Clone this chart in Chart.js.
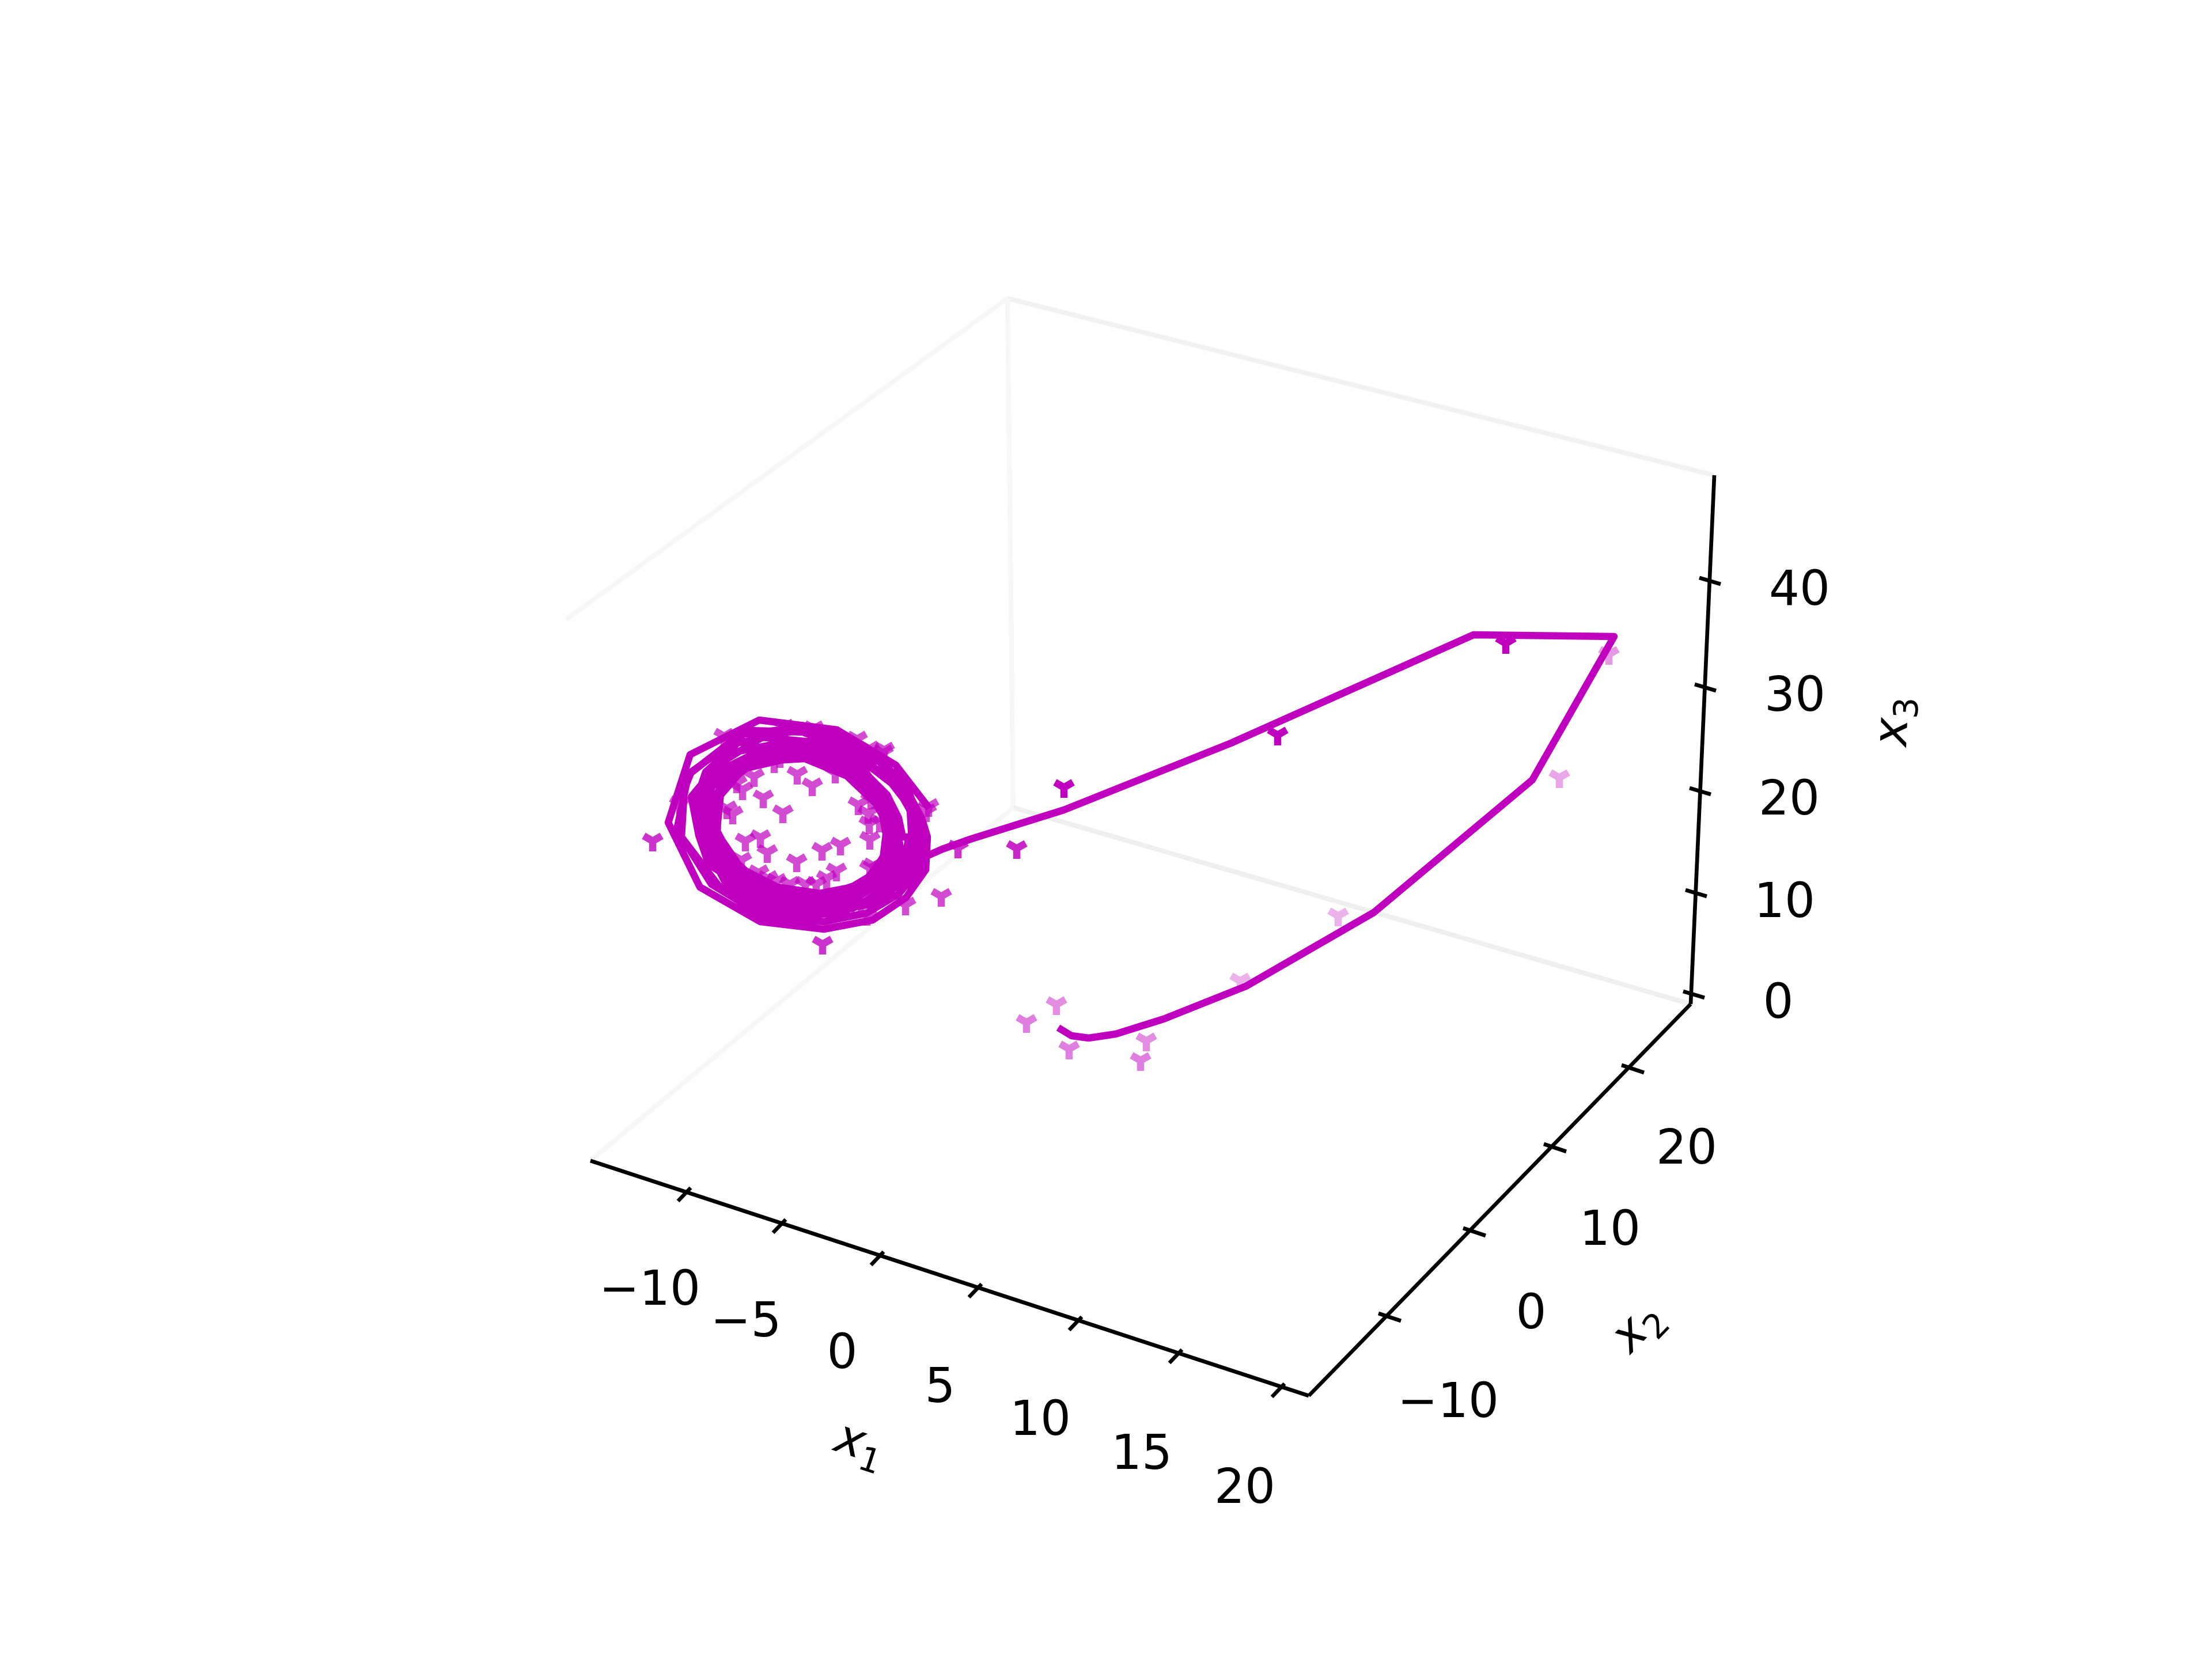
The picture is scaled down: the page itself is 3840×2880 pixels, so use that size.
<!DOCTYPE html>
<html>
<head>
<meta charset="utf-8">
<style>
  html, body { margin: 0; padding: 0; background: #fff; }
  canvas { display: block; }
</style>
<script src="https://cdn.jsdelivr.net/npm/chart.js@4"></script>
</head>
<body>
<canvas id="lorenzChart" width="3840" height="2880"></canvas>
<script>
const lineX = [1837, 1860, 1890, 1937, 2020, 2163, 2385, 2660, 2802, 2558, 2137, 1847, 1687, 1636,
  1600, 1570, 1510, 1425, 1330, 1265, 1232, 1235, 1260, 1330, 1420, 1500, 1548, 1550, 1520, 1465, 1395, 1330, 1275, 1245, 1247, 1290, 1397, 1470, 1530,
  1538, 1533, 1500, 1470, 1423, 1350, 1287, 1244, 1251, 1279, 1310, 1397, 1470, 1529,
  1543, 1515, 1465, 1395, 1320, 1270, 1238, 1238, 1270, 1325, 1385, 1450, 1510, 1537,
  1555, 1525, 1470, 1400, 1310, 1255, 1227, 1230, 1240, 1283, 1350, 1430, 1480, 1530, 1550,
  1558, 1530, 1475, 1405, 1305, 1250, 1232, 1225, 1255, 1330, 1430, 1485, 1535, 1555,
  1565, 1533, 1480, 1413, 1300, 1243, 1225, 1217, 1217, 1267, 1340, 1430, 1490, 1540, 1560, 1567,
  1577, 1572, 1540, 1493, 1440, 1340, 1260, 1230, 1213, 1200, 1247, 1323, 1430, 1500, 1557, 1580,
  1583, 1583, 1545, 1480, 1410, 1330, 1258, 1225, 1205, 1225, 1280, 1385, 1480, 1540, 1575,
  1588, 1593, 1547, 1463, 1400, 1317, 1247, 1183, 1188, 1200, 1300, 1427, 1527, 1580,
  1600, 1600, 1560, 1505, 1430, 1325, 1235, 1175, 1195, 1285, 1400, 1500, 1565, 1600,
  1610, 1607, 1573, 1515, 1430, 1320, 1215, 1160, 1198, 1318, 1453, 1555, 1613];
const lineY = [1784, 1798, 1802, 1795, 1769, 1712, 1584, 1354, 1105, 1102, 1290, 1406, 1456, 1474,
  1490, 1530, 1570, 1585, 1570, 1525, 1470, 1400, 1345, 1300, 1295, 1335, 1410, 1470, 1525, 1552, 1562, 1545, 1510, 1450, 1385, 1335, 1310, 1340, 1400,
  1448, 1490, 1532, 1542, 1551, 1540, 1508, 1445, 1378, 1347, 1322, 1317, 1347, 1403,
  1470, 1518, 1548, 1558, 1535, 1490, 1430, 1385, 1345, 1315, 1308, 1325, 1375, 1425,
  1470, 1525, 1555, 1568, 1545, 1490, 1410, 1383, 1353, 1323, 1303, 1310, 1335, 1385, 1430,
  1470, 1525, 1560, 1572, 1552, 1495, 1430, 1385, 1335, 1298, 1305, 1333, 1382, 1425,
  1483, 1530, 1563, 1577, 1557, 1500, 1450, 1413, 1380, 1307, 1293, 1300, 1330, 1380, 1420, 1453,
  1453, 1493, 1540, 1570, 1583, 1572, 1520, 1500, 1450, 1383, 1327, 1280, 1290, 1323, 1367, 1407,
  1460, 1497, 1540, 1577, 1586, 1578, 1530, 1465, 1400, 1340, 1290, 1268, 1303, 1350, 1395,
  1430, 1500, 1543, 1583, 1590, 1583, 1537, 1453, 1370, 1340, 1268, 1272, 1323, 1380,
  1445, 1505, 1552, 1585, 1600, 1590, 1535, 1440, 1345, 1275, 1262, 1295, 1355, 1420,
  1453, 1510, 1558, 1597, 1613, 1600, 1540, 1428, 1310, 1250, 1267, 1328, 1403];

const markerX = [2614, 2793, 2218, 1847, 2707, 1765, 1663, 2323, 2153, 1834, 1782, 1856, 1990, 1980,
  1133, 1428, 1634, 1572, 1505, 1383, 1427, 1459, 1332, 1320, 1294, 1452, 1435, 1510, 1509, 1527, 1507, 1490, 1512,
  1359, 1325, 1272, 1262, 1289, 1279, 1309, 1384, 1410, 1450, 1344, 1354, 1180,
  1257, 1361, 1413, 1488, 1509, 1535, 1533, 1608, 1612,
  1287, 1317, 1333, 1348, 1371, 1398, 1417, 1510, 1516];
const markerY = [1117, 1136, 1276, 1367, 1350, 1473, 1472, 1590, 1703, 1744, 1775, 1821, 1807, 1841,
  1460, 1639, 1556, 1571, 1589, 1496, 1476, 1467, 1480, 1454, 1460, 1512, 1525, 1457, 1430, 1427, 1412, 1397, 1387,
  1411, 1385, 1413, 1404, 1371, 1359, 1348, 1344, 1364, 1342, 1324, 1315, 1395,
  1278, 1262, 1265, 1283, 1300, 1302, 1307, 1409, 1400,
  1493, 1515, 1525, 1530, 1535, 1535, 1535, 1507, 1503];
// how strongly each marker is shaded by depth
const markerShade = [1, 0.4, 1, 1, 0.35, 0.85, 0.8, 0.3, 0.3, 0.45, 0.5, 0.5, 0.45, 0.5,
  0.8, 0.8, 0.7, 0.7, 0.7, 0.7, 0.7, 0.7, 0.7, 0.7, 0.7, 0.7, 0.7, 0.7, 0.7, 0.7, 0.7, 0.7, 0.7,
  0.7, 0.7, 0.7, 0.7, 0.7, 0.7, 0.7, 0.7, 0.7, 0.7, 0.7, 0.7, 0.7,
  0.7, 0.7, 0.7, 0.7, 0.7, 0.7, 0.7, 0.7, 0.7,
  0.7, 0.7, 0.7, 0.7, 0.7, 0.7, 0.7, 0.7, 0.7];

const x1TickLabels = ["\u221210", "\u22125", "0", "5", "10", "15", "20"];
const x1TickX = [1190, 1355, 1525, 1695, 1869, 2043, 2221];
const x1TickY = [2068, 2123, 2179, 2235, 2292, 2349, 2408];
const x1LabelX = [1128, 1295, 1462, 1632, 1806, 1982, 2161];
const x1LabelY = [2235, 2290, 2345, 2404, 2461, 2520, 2579];

const x2TickLabels = ["\u221210", "0", "10", "20"];
const x2TickX = [2409, 2556, 2696, 2831];
const x2TickY = [2285, 2137, 1991, 1854];
const x2LabelX = [2514, 2658, 2795, 2928];
const x2LabelY = [2430, 2276, 2131, 1990];

const x3TickLabels = ["0", "10", "20", "30", "40"];
const x3TickX = [2940, 2944, 2951, 2960, 2968];
const x3TickY = [1726, 1550, 1373, 1193, 1008];
const x3LabelX = [3087, 3098, 3106, 3116, 3124];
const x3LabelY = [1737, 1562, 1384, 1204, 1020];

// box corners of the 3d view
const floorFront = { x: 2272, y: 2423 };
const floorLeft = { x: 1025, y: 2015 };
const floorRight = { x: 2935, y: 1743 };
const floorBack = { x: 1759, y: 1402 };
const topBack = { x: 1749, y: 518 };
const topLeft = { x: 982, y: 1076 };
const topRight = { x: 2976, y: 825 };

const MAGENTA = "#bf00bf";

function zip(xs, ys) {
  return xs.map(function (x, i) { return { x: x, y: ys[i] }; });
}

function edge(points, color, width) {
  return {
    data: points,
    showLine: true,
    borderColor: color,
    borderWidth: width,
    pointRadius: 0,
    order: 3
  };
}

function tickMarks(xs, ys, dx1, dy1, dx2, dy2) {
  return xs.map(function (x, i) {
    return edge([{ x: x + dx1, y: ys[i] + dy1 }, { x: x + dx2, y: ys[i] + dy2 }], "#000", 6.67);
  });
}

// tri_down marker, one small canvas per point because alpha follows depth
function triDown(alpha) {
  const c = document.createElement("canvas");
  c.width = 60;
  c.height = 60;
  const g = c.getContext("2d");
  const r = 18;
  g.globalAlpha = alpha;
  g.strokeStyle = MAGENTA;
  g.lineWidth = 12.5;
  g.beginPath();
  g.moveTo(30, 30);
  g.lineTo(30, 30 + r);
  g.moveTo(30, 30);
  g.lineTo(30 - 0.866 * r, 30 - 0.5 * r);
  g.moveTo(30, 30);
  g.lineTo(30 + 0.866 * r, 30 - 0.5 * r);
  g.stroke();
  return c;
}

const markerImages = markerShade.map(triDown);

const datasets = [
  {
    data: zip(lineX, lineY),
    showLine: true,
    borderColor: MAGENTA,
    borderWidth: 12.5,
    borderJoinStyle: "round",
    pointRadius: 0,
    order: 1
  },
  {
    data: zip(markerX, markerY),
    showLine: false,
    pointStyle: markerImages,
    pointRadius: 20,
    order: 2
  },
  edge([floorLeft, floorFront], "#000", 6.67),
  edge([floorFront, floorRight], "#000", 6.67),
  edge([floorRight, topRight], "#000", 6.67),
  edge([floorLeft, floorBack], "#f7f7f7", 8.3),
  edge([floorBack, floorRight], "#efefef", 8.3),
  edge([floorBack, topBack], "#f7f7f7", 8.3),
  edge([topBack, topLeft], "#f7f7f7", 8.3),
  edge([topBack, topRight], "#f2f2f2", 8.3)
].concat(
  tickMarks(x1TickX, x1TickY, -13, 17, 9, -6),
  tickMarks(x2TickX, x2TickY, -16, -5, 23, 8),
  tickMarks(x3TickX, x3TickY, -18, -5, 19, 6)
);

// axis text goes through the same scales as the marks
const axisText = {
  id: "axisText",
  afterDraw: function (chart) {
    const ctx = chart.ctx;
    const sx = chart.scales.x;
    const sy = chart.scales.y;

    function tickText(labels, xs, ys) {
      ctx.font = "83.3px 'DejaVu Sans'";
      ctx.textAlign = "center";
      ctx.textBaseline = "alphabetic";
      ctx.fillStyle = "#000";
      labels.forEach(function (label, i) {
        ctx.fillText(label, sx.getPixelForValue(xs[i]), sy.getPixelForValue(ys[i]) + 30);
      });
    }

    function axisName(sub, x, y, degrees) {
      ctx.save();
      ctx.translate(sx.getPixelForValue(x), sy.getPixelForValue(y));
      ctx.rotate(degrees * Math.PI / 180);
      ctx.textAlign = "left";
      ctx.textBaseline = "alphabetic";
      ctx.fillStyle = "#000";
      ctx.font = "italic 83.3px 'DejaVu Sans'";
      ctx.fillText("x", -43, 14);
      ctx.font = "58.3px 'DejaVu Sans'";
      ctx.fillText(sub, 6, 31);
      ctx.restore();
    }

    tickText(x1TickLabels, x1LabelX, x1LabelY);
    tickText(x2TickLabels, x2LabelX, x2LabelY);
    tickText(x3TickLabels, x3LabelX, x3LabelY);
    axisName("1", 1490, 2517, 18);
    axisName("2", 2850, 2311, -46);
    axisName("3", 3297, 1253, -87.4);
  }
};

new Chart(document.getElementById("lorenzChart").getContext("2d"), {
  type: "scatter",
  data: { datasets: datasets },
  plugins: [axisText],
  options: {
    responsive: false,
    animation: false,
    devicePixelRatio: 1,
    // no extra room around the points, the scales must fill the whole canvas
    layout: { padding: 0, autoPadding: false },
    plugins: {
      legend: { display: false },
      tooltip: { enabled: false }
    },
    scales: {
      x: { type: "linear", min: 0, max: 3840, display: false },
      y: { type: "linear", min: 0, max: 2880, reverse: true, display: false }
    }
  }
});
</script>
</body>
</html>
